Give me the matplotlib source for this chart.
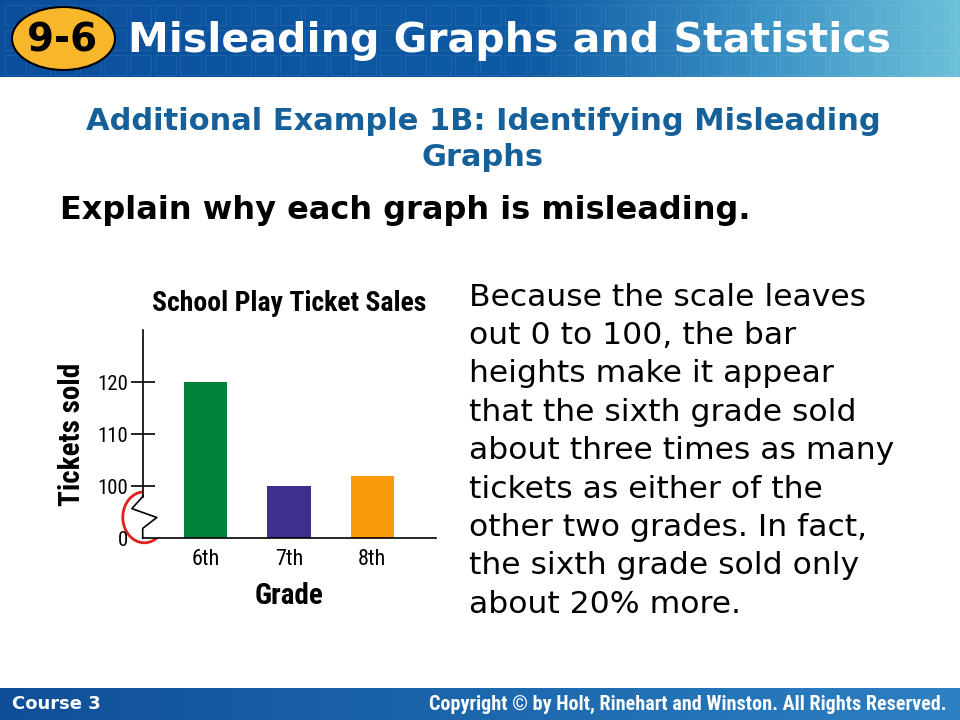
import numpy as np
import matplotlib.pyplot as plt
from matplotlib import font_manager
from matplotlib.patches import Ellipse, Rectangle
from matplotlib.colors import LinearSegmentedColormap
import matplotlib.transforms as mtransforms

grades = ['6th', '7th', '8th']
tickets = [120, 100, 102]
bar_colors = ['#00813a', '#3d2f8f', '#fb9b0b']
ytick_vals = [90, 100, 110, 120]
ytick_labels = ['0', '100', '110', '120']

header = 'Misleading Graphs and Statistics'
lesson = '9-6'
subtitle = ['Additional Example 1B: Identifying Misleading', 'Graphs']
prompt = 'Explain why each graph is misleading.'
answer = ['Because the scale leaves',
          'out 0 to 100, the bar',
          'heights make it appear',
          'that the sixth grade sold',
          'about three times as many',
          'tickets as either of the',
          'other two grades. In fact,',
          'the sixth grade sold only',
          'about 20% more.']
footer_left = 'Course 3'
footer_right = 'Copyright \u00a9 by Holt, Rinehart and Winston. All Rights Reserved.'


def pick_font(names):
    installed = {f.name for f in font_manager.fontManager.ttflist}
    for n in names:
        if n in installed:
            return n
    return 'DejaVu Sans'


narrow = pick_font(['Liberation Sans Narrow', 'Roboto Condensed', 'Liberation Sans'])

fig = plt.figure(figsize=(9.6, 7.2), dpi=100)

# fond (coordonnées en pixels)
bg = fig.add_axes([0, 0, 1, 1])
bg.set_xlim(0, 960)
bg.set_ylim(720, 0)
bg.axis('off')

# bandeau du haut
cmap_top = LinearSegmentedColormap.from_list('top', [(0, '#0b4f9c'), (0.55, '#0e5aa4'), (0.8, '#3c93c6'), (1, '#6cc0d8')])
grad = np.linspace(0, 1, 256).reshape(1, -1)
bg.imshow(grad, cmap=cmap_top, extent=[0, 960, 77, 0], aspect='auto', zorder=0)
for cx in np.arange(5, 960, 25):
    for cy in [5, 30, 55]:
        bg.add_patch(Rectangle((cx, cy), 21, 20, fill=False, ec='white', lw=0.8, alpha=0.08, zorder=1))

bg.add_patch(Ellipse((63.5, 38.5), 103, 63, fc='#f8b62b', ec='black', lw=1.5, zorder=2))
bg.text(62, 41, lesson, fontsize=28, fontweight='bold', color='black',
        ha='center', va='center', zorder=3)
bg.text(128, 41, header, fontsize=29.5, fontweight='bold', color='white',
        ha='left', va='center', zorder=3)

# bandeau du bas
cmap_bot = LinearSegmentedColormap.from_list('bot', ['#0f4f98', '#1d67ad', '#2d80c2'])
bg.imshow(grad, cmap=cmap_bot, extent=[0, 960, 720, 688], aspect='auto', zorder=0)
bg.text(12, 704, footer_left, fontsize=13, fontweight='bold', color='white',
        ha='left', va='center')
bg.text(947, 704, footer_right, fontsize=14.5, fontweight='bold', family=narrow, color='white',
        ha='right', va='center')

# textes
bg.text(483, 121, subtitle[0], fontsize=22, fontweight='bold', color='#16609a',
        ha='center', va='center')
bg.text(483, 158, subtitle[1], fontsize=22, fontweight='bold', color='#16609a',
        ha='center', va='center')
bg.text(60, 211, prompt, fontsize=23, fontweight='bold', color='black',
        ha='left', va='center')
for i, line in enumerate(answer):
    bg.text(469, 297 + i * 38.4, line, fontsize=22.6, color='black',
            ha='left', va='center')

# graphique
ax = fig.add_axes([142.7 / 960, 1 - 538.3 / 720, 293.3 / 960, 208.3 / 720])
x = np.arange(len(grades))
ax.bar(x, np.array(tickets) - 90, bottom=90, width=0.52, color=bar_colors, zorder=2)
ax.set_xlim(-0.756, 2.765)
ax.set_ylim(90, 130)
ax.set_xticks(x)
ax.set_xticklabels(grades, family=narrow, fontsize=16)
ax.set_yticks(ytick_vals)
ax.set_yticklabels(ytick_labels, family=narrow, fontsize=15)
ax.tick_params(axis='x', length=0, pad=8)
ax.tick_params(axis='y', direction='inout', length=17, width=1.2, pad=2)
ax.yaxis.get_major_ticks()[0].tick1line.set_visible(False)
for s in ['top', 'right']:
    ax.spines[s].set_visible(False)
ax.spines['bottom'].set_linewidth(1.2)
ax.spines['left'].set_linewidth(1.2)
ax.spines['left'].set_bounds(98, 130)
ax.set_title('School Play Ticket Sales', family=narrow, fontweight='bold', fontsize=20, pad=14, x=0.5)
ax.set_xlabel('Grade', family=narrow, fontweight='bold', fontsize=21, labelpad=8)
ax.set_ylabel('Tickets sold', family=narrow, fontweight='bold', fontsize=21, labelpad=8)

# rupture de l'axe
trans = mtransforms.blended_transform_factory(ax.transAxes, ax.transData)
ax.plot([0, 0, 0.048, -0.037, 0, 0], [90, 91.9, 94.0, 95.7, 98, 98.2], color='black', lw=1.2,
        transform=trans, clip_on=False)
bg.add_patch(Ellipse((144.3, 517.3), 43, 51, fill=False, ec='#e0201b', lw=2))

fig.savefig('out.png', dpi=100)
